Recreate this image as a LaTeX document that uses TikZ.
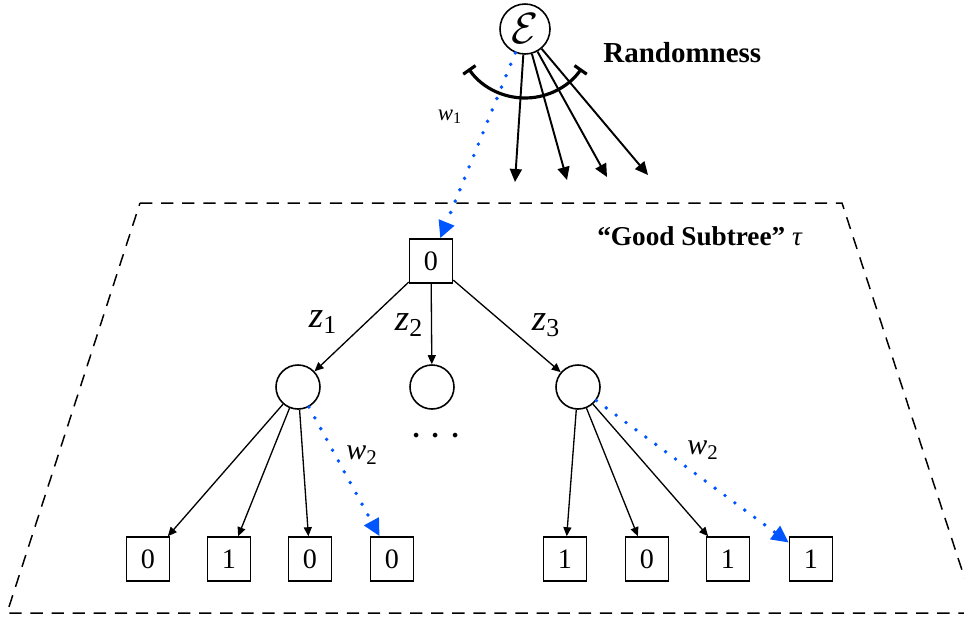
\documentclass[tikz,border=0pt]{standalone}
\usepackage{fontspec}
\setmainfont{Liberation Serif}
\usetikzlibrary{arrows.meta}
\definecolor{walkblue}{RGB}{0,85,255}

\begin{document}
\begin{tikzpicture}[
    bit/.style={draw, line width=0.9pt, minimum width=0.86cm, minimum height=0.88cm, inner sep=0pt, font=\fontsize{16}{16}\selectfont},
    hub/.style={draw, circle, line width=0.9pt, minimum size=0.88cm, inner sep=0pt},
    branch/.style={line width=0.75pt, -{Triangle[length=1.8mm,width=1.6mm]}},
    spread/.style={line width=1.1pt, -{Triangle[length=2.6mm,width=2.4mm]}},
    walk/.style={walkblue, line width=2.2pt, line cap=round, dash pattern=on 0pt off 7pt, -{Triangle[length=3.4mm,width=3.2mm]}}
  ]
    \useasboundingbox (0,0) rectangle (19.28,-12.4);

    % randomness
    \node[draw, circle, line width=0.9pt, minimum size=1cm, inner sep=0pt, font=\fontsize{25}{25}\selectfont] (eps) at (10.5,-0.58) {$\mathcal{E}$};
    \node[anchor=west, inner sep=0pt, font=\fontsize{16.5}{16.5}\selectfont\bfseries] (rand) at (12.06,-1.06) {Randomness};
    \draw[line width=1.8pt, {Bar[width=3mm]}-{Bar[width=3mm]}] ([shift={(215:1.38)}]eps.center) arc[start angle=215, end angle=325, radius=1.38];
    \coordinate (r1) at (10.3,-3.64);
    \coordinate (r2) at (11.34,-3.6);
    \coordinate (r3) at (12.14,-3.54);
    \coordinate (r4) at (12.96,-3.5);
    \draw[spread] (eps) -- (r1);
    \draw[spread] (eps) -- (r2);
    \draw[spread] (eps) -- (r3);
    \draw[spread] (eps) -- (r4);

    % good subtree
    \draw[line width=0.85pt, dash pattern=on 7pt off 5pt] (2.8,-4.06) -- (16.84,-4.06) -- (19.52,-12.26) -- (0.14,-12.26) -- cycle;
    \node[anchor=west, inner sep=0pt, font=\fontsize{15.5}{15.5}\selectfont\bfseries] (good) at (11.94,-4.72) {``Good Subtree'' {\mdseries\itshape τ}};

    %% root
    \node[bit] (root) at (8.62,-5.22) {0};
    \draw[walk] (eps) -- (root);
    \node[font=\fontsize{13}{13}\selectfont] (w1) at (9.0,-2.34) {{\itshape w}\textsubscript{1}};

    %% first level
    \node[hub] (h1) at (5.96,-7.74) {};
    \node[hub] (h2) at (8.64,-7.74) {};
    \node[hub] (h3) at (11.56,-7.74) {};
    \draw[branch] (root) -- (h1);
    \draw[branch] (root) -- (h2);
    \draw[branch] (root) -- (h3);
    \node[font=\fontsize{21}{21}\selectfont] (z1) at (6.46,-6.44) {{\itshape z}\textsubscript{1}};
    \node[font=\fontsize{21}{21}\selectfont] (z2) at (8.18,-6.5) {{\itshape z}\textsubscript{2}};
    \node[font=\fontsize{21}{21}\selectfont] (z3) at (10.92,-6.5) {{\itshape z}\textsubscript{3}};
    \node[font=\fontsize{24}{24}\selectfont] (more) at (8.72,-8.74) {$\cdots$};

    %% leaves
    \node[bit] (l1) at (2.96,-11.18) {0};
    \node[bit] (l2) at (4.58,-11.18) {1};
    \node[bit] (l3) at (6.2,-11.18) {0};
    \node[bit] (l4) at (7.84,-11.18) {0};
    \node[bit] (l5) at (11.3,-11.18) {1};
    \node[bit] (l6) at (12.94,-11.18) {0};
    \node[bit] (l7) at (14.56,-11.18) {1};
    \node[bit] (l8) at (16.22,-11.18) {1};
    \draw[branch] (h1) -- (l1);
    \draw[branch] (h1) -- (l2);
    \draw[branch] (h1) -- (l3);
    \draw[walk] (h1) -- (l4);
    \draw[branch] (h3) -- (l5);
    \draw[branch] (h3) -- (l6);
    \draw[branch] (h3) -- (l7);
    \draw[walk] (h3) -- (l8);
    \node[font=\fontsize{17}{17}\selectfont] (w2a) at (7.24,-9.1) {{\itshape w}\textsubscript{2}};
    \node[font=\fontsize{17}{17}\selectfont] (w2b) at (14.06,-9.0) {{\itshape w}\textsubscript{2}};
\end{tikzpicture}
\end{document}
